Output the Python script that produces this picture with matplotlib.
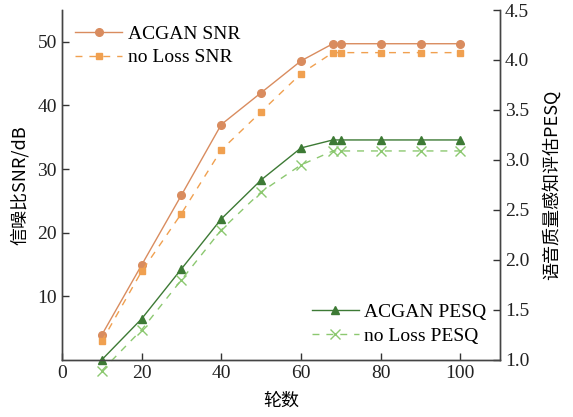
import matplotlib
matplotlib.use("Agg")
import matplotlib.pyplot as plt

plt.rcParams['font.family'] = ['Liberation Serif', 'Noto Sans CJK SC', 'DejaVu Sans']
plt.rcParams['mathtext.fontset'] = 'stix'

epochs = [10, 20, 30, 40, 50, 60, 68, 70, 80, 90, 100]
acgan_snr = [3.9, 14.9, 25.9, 37.0, 42.0, 47.0, 49.7, 49.7, 49.7, 49.7, 49.7]
noloss_snr = [2.9, 13.9, 23.0, 33.0, 39.0, 45.0, 48.3, 48.3, 48.3, 48.3, 48.3]
acgan_pesq = [1.0, 1.41, 1.91, 2.41, 2.80, 3.12, 3.2, 3.2, 3.2, 3.2, 3.2]
noloss_pesq = [0.89, 1.30, 1.80, 2.30, 2.68, 2.95, 3.09, 3.09, 3.09, 3.09, 3.09]

c_asnr = '#d98c5f'
c_nsnr = '#f0a050'
c_apesq = '#3d7a35'
c_npesq = '#8cc870'

fig = plt.figure(figsize=(5.73, 4.17), dpi=100)
ax = fig.add_axes([0.108, 0.137, 0.765, 0.839])
ax2 = ax.twinx()

l1, = ax.plot(epochs, acgan_snr, '-o', color=c_asnr, lw=1.0, ms=5.5, label='ACGAN SNR', clip_on=False)
l2, = ax.plot(epochs, noloss_snr, '--s', color=c_nsnr, lw=1.0, ms=5, dashes=(5, 5), label='no Loss SNR', clip_on=False)
l3, = ax2.plot(epochs, acgan_pesq, '-^', color=c_apesq, lw=1.0, ms=6, label='ACGAN PESQ', clip_on=False)
l4, = ax2.plot(epochs, noloss_pesq, '--x', color=c_npesq, lw=1.0, ms=7, mew=1.0, dashes=(5, 5), label='no Loss PESQ', clip_on=False)

ax.set_xlim(0, 110)
ax.set_ylim(0, 55)
ax2.set_ylim(1.0, 4.5)
ax.set_xticks([0, 20, 40, 60, 80, 100])
ax.set_yticks([10, 20, 30, 40, 50])
ax2.set_yticks([1.0, 1.5, 2.0, 2.5, 3.0, 3.5, 4.0, 4.5])
ax2.set_yticklabels(['1.0', '1.5', '2.0', '2.5', '3.0', '3.5', '4.0', '4.5'])

for a in (ax, ax2):
    a.spines['top'].set_visible(False)
    a.tick_params(direction='in', labelsize=14, length=5, width=1, colors='#333333', labelcolor='#222222')
    for s in a.spines.values():
        s.set_color('#444444')
        s.set_linewidth(1.0)

ax.set_xlabel('轮数', fontsize=13, family=['Noto Sans CJK SC', 'DejaVu Sans'], labelpad=7)
ax.set_ylabel('信噪比SNR/dB', fontsize=13, family=['Noto Sans CJK SC', 'Liberation Serif'], labelpad=6)
ax2.set_ylabel('语音质量感知评估PESQ', fontsize=13, family=['Noto Sans CJK SC', 'Liberation Serif'], labelpad=9)

leg1 = ax.legend(handles=[l1, l2], loc='upper left', bbox_to_anchor=(0.0, 0.995), frameon=False,
                 fontsize=14, handlelength=2.4, borderaxespad=0.3, labelspacing=0.3, handletextpad=0.3)
ax2.legend(handles=[l3, l4], loc='lower right', bbox_to_anchor=(1.0, 0.005), frameon=False,
           fontsize=14, handlelength=2.4, borderaxespad=0.3, labelspacing=0.3, handletextpad=0.3)

fig.savefig('out.png', dpi=100)
